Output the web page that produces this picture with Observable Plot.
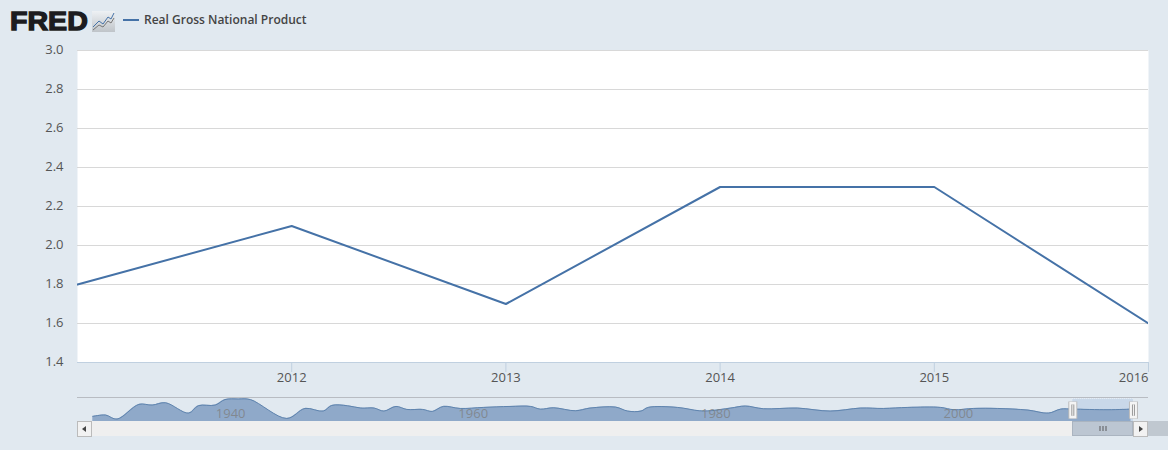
<!DOCTYPE html>
<html><head><meta charset="utf-8">
<script src="https://cdn.jsdelivr.net/npm/d3@7"></script>
<script src="https://cdn.jsdelivr.net/npm/@observablehq/plot@0.6"></script>
<style>
html,body{margin:0;padding:0;background:#e1e9f0;}
#page{position:relative;width:1168px;height:450px;overflow:hidden;background:#e1e9f0;font-family:"Open Sans",sans-serif;}
#logo{position:absolute;left:10px;top:3px;font:900 26px/36px "Liberation Sans",Arial,sans-serif;color:#1c1c20;-webkit-text-stroke:1.3px #1c1c20;letter-spacing:0;transform-origin:0 50%;transform:scaleX(1.1);}
#icon{position:absolute;left:92px;top:11px;}
#swatch{position:absolute;left:123px;top:19px;width:16px;height:2px;background:#4572a7;}
#legend{position:absolute;left:144px;top:11px;font:600 12px/18px "Open Sans",sans-serif;color:#444;white-space:nowrap;}
#main{position:absolute;left:0;top:36px;}
#nav{position:absolute;left:0;top:392px;}
.track{position:absolute;top:421px;height:15px;}
.btn{position:absolute;top:421px;width:13px;height:14px;background:#f2f2f2;border:1px solid #bbb;}
.arrow{position:absolute;top:4px;width:0;height:0;border-top:3px solid transparent;border-bottom:3px solid transparent;}
.grip{position:absolute;top:426px;width:2px;height:5px;background:#8a8f96;}
svg{display:block;}
</style></head>
<body><div id="page">
<div id="logo">FRED</div>
<svg id="icon" width="23" height="21" viewBox="0 0 23 21">
<defs><linearGradient id="g" x1="0" y1="0" x2="0" y2="1"><stop offset="0" stop-color="#eef1f4"/><stop offset="1" stop-color="#bfc4c9"/></linearGradient></defs>
<rect width="23" height="21" fill="url(#g)"/>
<path d="M1 16 L7 10 L11 13 L16 6 L19 8 L22 2" fill="none" stroke="#4572a7" stroke-width="1"/>
<path d="M1 19 L7 14 L11 16 L16 10 L19 12 L22 7" fill="none" stroke="#777" stroke-width="1"/>
</svg>
<div id="swatch"></div>
<div id="legend">Real Gross National Product</div>
<div id="main"></div>
<div class="track" style="left:77px;width:1071px;background:#efefef"></div>
<div class="track" style="left:1148px;width:20px;background:#c0c8d0"></div>
<div class="track" style="left:1072px;width:61px;background:#bcc6d2;box-shadow:inset 0 0 0 1px #aab4c0"></div>
<div class="btn" style="left:77px"><div class="arrow" style="left:4px;border-right:4px solid #444"></div></div>
<div class="btn" style="left:1133px"><div class="arrow" style="left:5px;border-left:4px solid #444"></div></div>
<div class="grip" style="left:1099px"></div><div class="grip" style="left:1102px"></div><div class="grip" style="left:1105px"></div>
<div id="nav"></div>
</div>
<script>
const years = [2011, 2012, 2013, 2014, 2015, 2016];
const values = [1.8, 2.1, 1.7, 2.3, 2.3, 1.6];
const yTicks = [1.4, 1.6, 1.8, 2.0, 2.2, 2.4, 2.6, 2.8, 3.0];
const xTicks = [2012, 2013, 2014, 2015];
const lastTick = [2016];

const navYears = [1930.2,1931.25,1932.2,1934,1935.1,1936.2,1938.1,1938.9,1940.3,1941.1,1942.2,1943.2,1946.2,1947.7,1949.2,1949.9,1951.2,1952.3,1953.4,1954.2,1955.2,1956.1,1957.4,1958.2,1959.1,1960.5,1962.4,1964.6,1966.3,1967.1,1968.2,1970,1971.2,1973.3,1974.3,1975.4,1976,1978.4,1980.2,1981.1,1982.8,1984,1985.5,1988.3,1991,1993.5,1995.4,1997.4,2000.1,2001.2,2002.8,2004.8,2007.3,2009,2010,2011,2013.9,2015.8];
const navValues = [-6.2,-4.4,-9.8,9.8,8.9,12,-1.8,8,8.9,16.2,17,16.2,-8.9,4.4,0.9,8.4,8,4.9,4.9,0.9,7.1,3.1,3.1,0.5,7.1,4.4,5.8,7.1,7.1,3.5,5.3,1.3,4.9,6.2,0.9,0.9,5.8,5.8,1.3,1.3,4.9,7.6,4,4.9,0.9,4.9,4.4,5.8,5.8,2.7,4.4,4.4,2.2,-1.8,3.5,3.5,2.7,3.5];
const navLabels = [1940, 1960, 1980, 2000];
const selection = [2011, 2016];

const axisStyle = {fontFamily:'"Open Sans",sans-serif', fontSize:13};
const main = Plot.plot({
  width:1168, height:356,
  marginTop:14, marginBottom:30, marginLeft:77, marginRight:20,
  style:{background:"transparent", ...axisStyle, color:"#555"},
  x:{domain:[2011,2016], tickFormat:"d", label:null},
  y:{domain:[1.4,3.0], label:null},
  marks:[
    Plot.frame({fill:"#fff", stroke:null}),
    Plot.gridY(yTicks.slice(1), {stroke:"#d8d8d8", strokeOpacity:1}),
    Plot.ruleY([1.4], {stroke:"#c0d0e0"}),
    Plot.axisY(yTicks, {tickSize:0, tickPadding:14, dy:-1, tickFormat:d3.format(".1f"), label:null, fill:"#555"}),
    Plot.axisX(xTicks, {tickSize:10, stroke:"#c0d0e0", tickPadding:0, tickFormat:"d", label:null, fill:"#555"}),
    Plot.axisX(lastTick, {tickSize:10, stroke:"#c0d0e0", tickPadding:0, tickFormat:"d", label:null, textAnchor:"end", fill:"#555"}),
    Plot.line(years.map((y,i)=>({y0:y, v:values[i]})), {x:"y0", y:"v", stroke:"#4572a7", strokeWidth:2, clip:true})
  ]
});
document.getElementById("main").appendChild(main);

const navData = navYears.map((y,i)=>({year:y, v:navValues[i]}));
const nav = Plot.plot({
  width:1168, height:29,
  marginTop:5, marginBottom:0, marginLeft:77, marginRight:20,
  style:{background:"transparent", ...axisStyle},
  x:{domain:[1928.94,2017.24], axis:null},
  y:{domain:[-13,19], axis:null},
  marks:[
    Plot.rectY(selection.slice(0,1), {x1:selection[0], x2:selection[1], y1:-13, y2:19, fill:"#c9d8e9"}),
    Plot.ruleY([17.6], {x1:selection[0], x2:selection[1], stroke:"#f4f7fa", strokeDasharray:"1 1"}),
    Plot.areaY(navData, {x:"year", y1:-13, y2:"v", fill:"#8fa9c9", curve:"catmull-rom"}),
    Plot.line(navData, {x:"year", y:"v", stroke:"#5f84ae", strokeWidth:1, curve:"catmull-rom"}),
    Plot.ruleY([19], {stroke:"#b8bcc2", strokeWidth:1}),
    Plot.text(navLabels, {x:d=>d, y:-2.3, text:d=>String(d), dx:19, fill:"#7d7d7d", fillOpacity:.75, fontSize:13, textAnchor:"middle"}),
    Plot.ruleX(selection, {y1:-10, y2:13, stroke:"#bbb", strokeWidth:9}),
    Plot.ruleX(selection, {y1:-9.5, y2:12.5, stroke:"#f4f4f4", strokeWidth:7}),
    Plot.ruleX(selection, {y1:-6, y2:9, stroke:"#999", strokeWidth:3}),
    Plot.ruleX(selection, {y1:-6, y2:9, stroke:"#f4f4f4", strokeWidth:1})
  ]
});
document.getElementById("nav").appendChild(nav);
</script>
</body></html>
